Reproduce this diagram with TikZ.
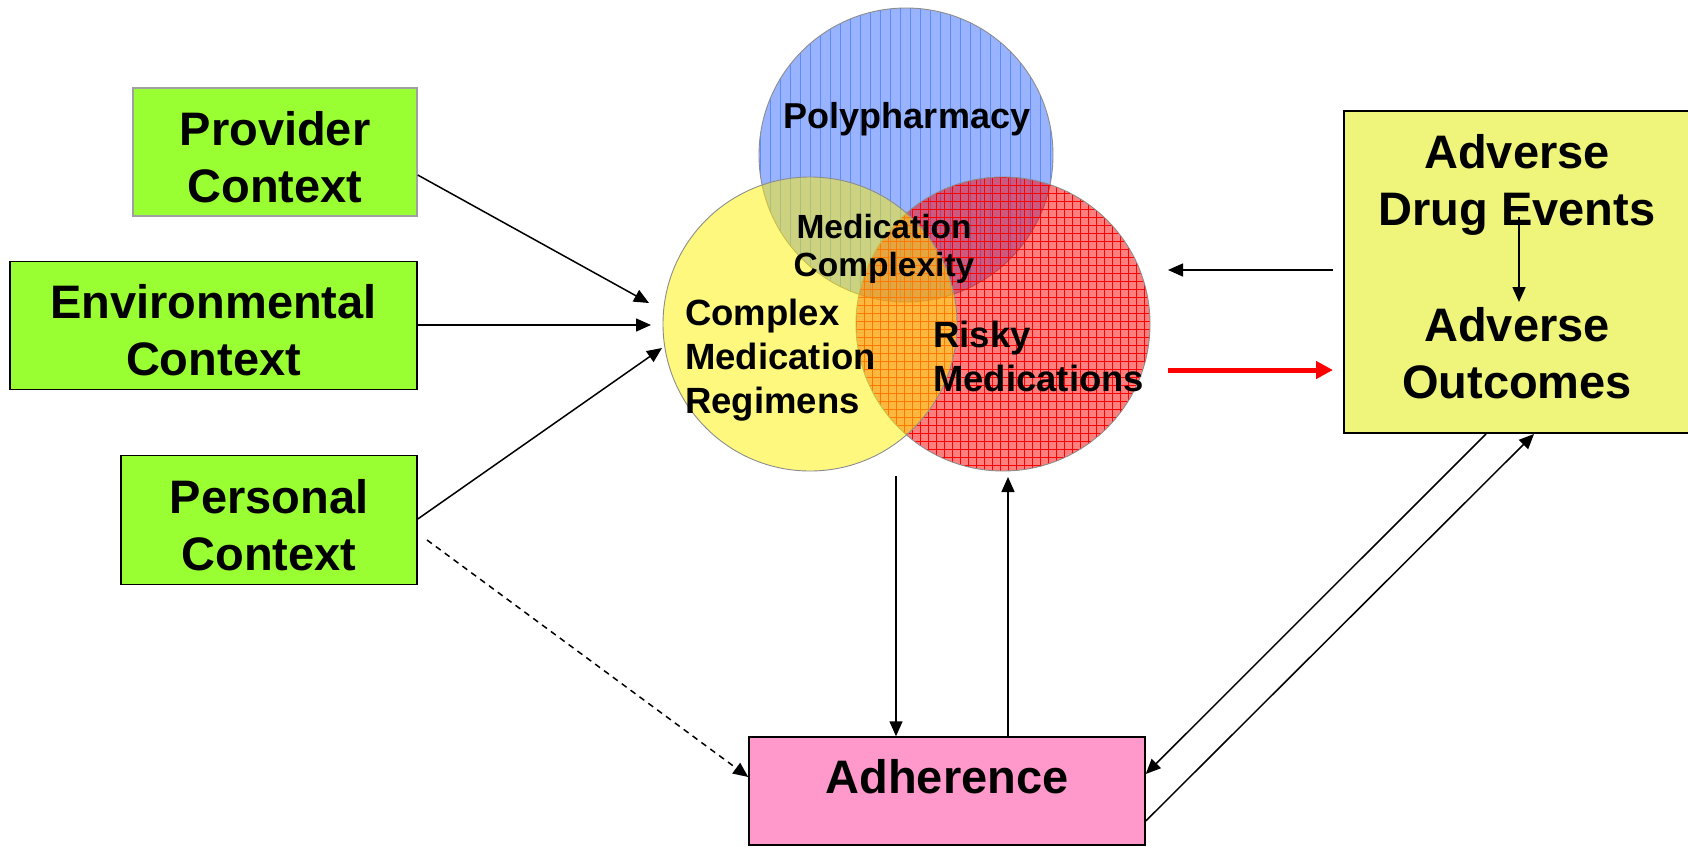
\documentclass[tikz,border=0pt]{standalone}
\usepackage{fontspec}
\setmainfont{Liberation Sans}
\usetikzlibrary{arrows.meta,patterns.meta}
\definecolor{limegreen}{RGB}{153,255,51}
\definecolor{adverse}{RGB}{238,245,122}
\definecolor{adhpink}{RGB}{255,153,204}
\definecolor{bluefill}{RGB}{153,179,255}
\definecolor{bluelines}{RGB}{90,140,255}
\definecolor{circleedge}{RGB}{140,140,140}
\definecolor{boxgray}{RGB}{160,160,160}
\newcommand{\lowstrut}{\rule{0pt}{43.5pt}}
\begin{document}
\begin{tikzpicture}[x=1pt,y=-1pt,
  bigfont/.style={font=\bfseries\fontsize{47}{57}\selectfont},
  greenbox/.style={draw=black, line width=1.5pt, fill=limegreen, inner sep=0pt,
    align=center, bigfont},
  venn/.style={circle, minimum size=294pt, inner sep=0pt, draw=circleedge, line width=0.9pt},
  vlabel/.style={inner sep=0pt},
  arr/.style={-{Triangle[length=15pt,width=13pt]}, line width=1.5pt},
  redarr/.style={-{Triangle[length=17pt,width=17pt]}, line width=5pt, red}
]
\useasboundingbox (0,0) rectangle (1688,849);

% left context boxes
\node[greenbox, draw=boxgray, minimum width=284pt, minimum height=128pt] (prov) at (275,152) {\lowstrut Provider\\Context};
\node[greenbox, minimum width=407pt, minimum height=128pt] (env) at (213.5,325.6) {\lowstrut Environmental\\Context};
\node[greenbox, minimum width=296pt, minimum height=129pt] (pers) at (269,520) {\lowstrut Personal\\Context};

% venn circles
\node[venn, preaction={fill=bluefill},
  pattern={Lines[angle=90,distance=10pt,line width=1pt]}, pattern color=bluelines] (poly) at (906,155) {};
\node[venn, preaction={fill=red, fill opacity=0.5},
  pattern={Hatch[angle=0,distance=8pt,line width=0.7pt]}, pattern color=red] (risky) at (1003,324) {};
\node[venn, fill=yellow, fill opacity=0.5, draw opacity=1] (cmr) at (810,324) {};

% circle labels
\node[vlabel, anchor=base, font=\bfseries\fontsize{36}{42}\selectfont] (polyt) at (907,128) {Polypharmacy};
\node[vlabel, align=center, font=\bfseries\fontsize{33.5}{38}\selectfont] (mct) at (884,249) {Medication\\Complexity};
\node[vlabel, align=left, anchor=west, font=\bfseries\fontsize{36.5}{44}\selectfont] (cmrt) at (685,360) {Complex\\Medication\\Regimens};
\node[vlabel, align=left, anchor=west, font=\bfseries\fontsize{36.5}{44}\selectfont] (riskyt) at (933,356.5) {Risky\\Medications};

% outcome box
\node[draw=black, line width=1.5pt, fill=adverse, minimum width=370pt, minimum height=322pt, inner sep=0pt] (outbox) at (1529,272) {};
\node[vlabel, align=center, bigfont] (ade) at (1517,185) {Adverse\\Drug Events};
\node[vlabel, align=center, bigfont] (ao) at (1517,353) {Adverse\\Outcomes};

% adherence box
\node[draw=black, line width=1.5pt, fill=adhpink, minimum width=396pt, minimum height=108pt, inner sep=0pt, bigfont] (adh) at (947,791) {\raisebox{-2pt}[0pt][0pt]{Adherence}};

% free ends
\coordinate (provT) at (649,303);
\coordinate (envT) at (651,325);
\coordinate (persT) at (662,348);
\coordinate (persD) at (427,540);
\coordinate (downS) at (896,476);
\coordinate (upT) at (1008,477);
\coordinate (backS) at (1333,270);
\coordinate (backT) at (1168,270);
\coordinate (redS) at (1168,370);
\coordinate (redT) at (1333,370);
\coordinate (adeS) at (1519,217);
\coordinate (aoT) at (1519,302);
\coordinate (diag1) at (1486,434);
\coordinate (diag2) at (1534,434);

% connectors
\draw[arr] (prov.east |- 0,175) -- (provT);
\draw[arr] (env.east |- 0,325) -- (envT);
\draw[arr] (pers.east |- 0,519) -- (persT);
\draw[arr, dash pattern=on 6pt off 5pt] (persD) -- (adh.west |- 0,777);
\draw[arr] (downS) -- (downS |- adh.north);
\draw[arr] (upT |- adh.north) -- (upT);
\draw[arr] (backS) -- (backT);
\draw[redarr] (redS) -- (redT);
\draw[arr] (adeS) -- (aoT);
\draw[arr] (diag1) -- (adh.east |- 0,774);
\draw[arr] (adh.east |- 0,821) -- (diag2);
\end{tikzpicture}
\end{document}
